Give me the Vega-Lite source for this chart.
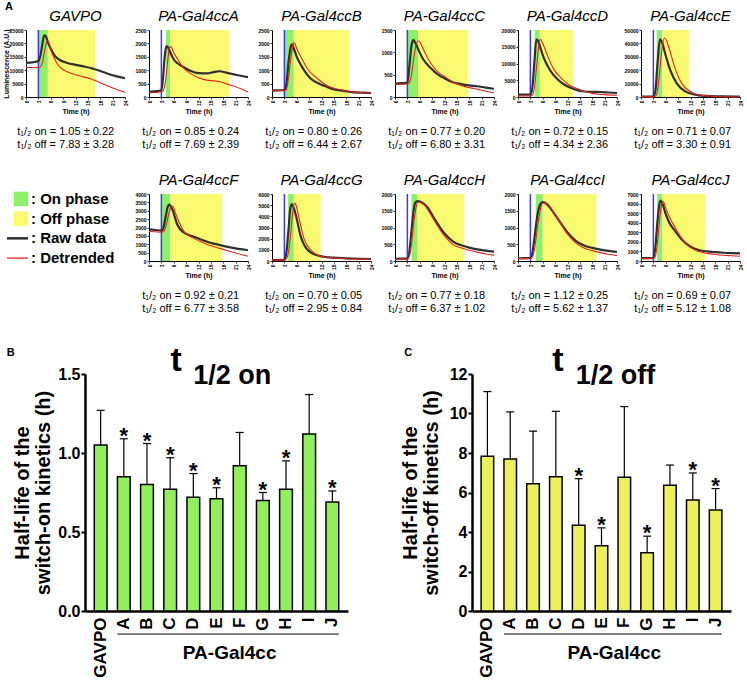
{
"$schema": "https://vega.github.io/schema/vega-lite/v6.json",
"background": "white",
"padding": {"left": 1, "top": 1, "right": 0, "bottom": 0},
"config": {
 "font": "Liberation Sans",
 "view": {"stroke": null},
 "axis": {"grid": false, "labelOverlap": false, "tickCount": 30, "domainColor": "black", "tickColor": "black", "labelColor": "black", "titleColor": "black", "labelFontSize": 5, "labelFontWeight": "bold", "titleFontSize": 7, "titleFontWeight": "bold", "tickSize": 2, "labelPadding": 1, "titlePadding": 2, "domainWidth": 1, "tickWidth": 0.8},
 "axisY": {"minExtent": 20, "maxExtent": 20},
 "title": {"color": "black", "font": "Liberation Sans"}
},
"datasets": {
 "phases": [
  {"p":"GAVPO","phase":"on","start":3,"end":5.3},{"p":"GAVPO","phase":"off","start":5.3,"end":16.8},
  {"p":"A","phase":"on","start":4.1,"end":5.1},{"p":"A","phase":"off","start":5.1,"end":19.5},
  {"p":"B","phase":"on","start":3,"end":5.3},{"p":"B","phase":"off","start":5.3,"end":18.7},
  {"p":"C","phase":"on","start":3,"end":5.6},{"p":"C","phase":"off","start":5.6,"end":17.8},
  {"p":"D","phase":"on","start":4.0,"end":5.3},{"p":"D","phase":"off","start":5.3,"end":13.3},
  {"p":"E","phase":"on","start":3.8,"end":5.2},{"p":"E","phase":"off","start":5.2,"end":11.6},
  {"p":"F","phase":"on","start":3,"end":5.2},{"p":"F","phase":"off","start":5.2,"end":17.8},
  {"p":"G","phase":"on","start":3.9,"end":5.3},{"p":"G","phase":"off","start":5.3,"end":11.8},
  {"p":"H","phase":"on","start":4.0,"end":5.4},{"p":"H","phase":"off","start":5.4,"end":16.8},
  {"p":"I","phase":"on","start":4.3,"end":6.0},{"p":"I","phase":"off","start":6.0,"end":19.0},
  {"p":"J","phase":"on","start":3.9,"end":5.2},{"p":"J","phase":"off","start":5.2,"end":15.5}
 ],
 "curves": [
  {"p":"GAVPO","s":"r","t":0,"v":12700},{"p":"GAVPO","s":"r","t":1.5,"v":12900},{"p":"GAVPO","s":"r","t":3,"v":13400},{"p":"GAVPO","s":"r","t":3.5,"v":15500},{"p":"GAVPO","s":"r","t":4,"v":20000},{"p":"GAVPO","s":"r","t":4.4,"v":23000},{"p":"GAVPO","s":"r","t":4.8,"v":22700},{"p":"GAVPO","s":"r","t":5.3,"v":20500},{"p":"GAVPO","s":"r","t":6,"v":18000},{"p":"GAVPO","s":"r","t":7,"v":15300},{"p":"GAVPO","s":"r","t":8,"v":14000},{"p":"GAVPO","s":"r","t":10,"v":12700},{"p":"GAVPO","s":"r","t":12,"v":12000},{"p":"GAVPO","s":"r","t":14,"v":11400},{"p":"GAVPO","s":"r","t":16,"v":10700},{"p":"GAVPO","s":"r","t":18,"v":9700},{"p":"GAVPO","s":"r","t":20,"v":8600},{"p":"GAVPO","s":"r","t":22,"v":7700},{"p":"GAVPO","s":"r","t":24,"v":7000},
  {"p":"GAVPO","s":"d","t":0,"v":11000},{"p":"GAVPO","s":"d","t":1.5,"v":11000},{"p":"GAVPO","s":"d","t":3,"v":11000},{"p":"GAVPO","s":"d","t":3.5,"v":11300},{"p":"GAVPO","s":"d","t":4,"v":13000},{"p":"GAVPO","s":"d","t":4.5,"v":17000},{"p":"GAVPO","s":"d","t":5,"v":20500},{"p":"GAVPO","s":"d","t":5.3,"v":21000},{"p":"GAVPO","s":"d","t":6,"v":17500},{"p":"GAVPO","s":"d","t":7,"v":14000},{"p":"GAVPO","s":"d","t":8,"v":11500},{"p":"GAVPO","s":"d","t":10,"v":9400},{"p":"GAVPO","s":"d","t":12,"v":8300},{"p":"GAVPO","s":"d","t":14,"v":7500},{"p":"GAVPO","s":"d","t":16,"v":6600},{"p":"GAVPO","s":"d","t":18,"v":5300},{"p":"GAVPO","s":"d","t":20,"v":4000},{"p":"GAVPO","s":"d","t":22,"v":2800},{"p":"GAVPO","s":"d","t":24,"v":1800},
  {"p":"A","s":"r","t":0,"v":190},{"p":"A","s":"r","t":1.5,"v":210},{"p":"A","s":"r","t":3,"v":250},{"p":"A","s":"r","t":3.4,"v":700},{"p":"A","s":"r","t":3.8,"v":1500},{"p":"A","s":"r","t":4.2,"v":1900},{"p":"A","s":"r","t":4.6,"v":1850},{"p":"A","s":"r","t":5.2,"v":1650},{"p":"A","s":"r","t":6,"v":1400},{"p":"A","s":"r","t":7,"v":1250},{"p":"A","s":"r","t":8,"v":1150},{"p":"A","s":"r","t":10,"v":980},{"p":"A","s":"r","t":12,"v":890},{"p":"A","s":"r","t":14,"v":880},{"p":"A","s":"r","t":16,"v":940},{"p":"A","s":"r","t":17,"v":960},{"p":"A","s":"r","t":19,"v":900},{"p":"A","s":"r","t":21,"v":830},{"p":"A","s":"r","t":24,"v":740},
  {"p":"A","s":"d","t":0,"v":160},{"p":"A","s":"d","t":1.5,"v":170},{"p":"A","s":"d","t":3,"v":200},{"p":"A","s":"d","t":3.5,"v":250},{"p":"A","s":"d","t":4,"v":600},{"p":"A","s":"d","t":4.5,"v":1300},{"p":"A","s":"d","t":5,"v":1850},{"p":"A","s":"d","t":5.3,"v":1880},{"p":"A","s":"d","t":6,"v":1650},{"p":"A","s":"d","t":7,"v":1400},{"p":"A","s":"d","t":8,"v":1150},{"p":"A","s":"d","t":10,"v":880},{"p":"A","s":"d","t":12,"v":720},{"p":"A","s":"d","t":14,"v":630},{"p":"A","s":"d","t":16,"v":600},{"p":"A","s":"d","t":17,"v":580},{"p":"A","s":"d","t":19,"v":480},{"p":"A","s":"d","t":21,"v":380},{"p":"A","s":"d","t":24,"v":190},
  {"p":"B","s":"r","t":0,"v":240},{"p":"B","s":"r","t":1.5,"v":250},{"p":"B","s":"r","t":3,"v":260},{"p":"B","s":"r","t":3.5,"v":500},{"p":"B","s":"r","t":4,"v":1300},{"p":"B","s":"r","t":4.5,"v":1850},{"p":"B","s":"r","t":4.85,"v":1960},{"p":"B","s":"r","t":5.3,"v":1800},{"p":"B","s":"r","t":6,"v":1500},{"p":"B","s":"r","t":7,"v":1200},{"p":"B","s":"r","t":8,"v":950},{"p":"B","s":"r","t":9.3,"v":700},{"p":"B","s":"r","t":11.7,"v":480},{"p":"B","s":"r","t":13,"v":400},{"p":"B","s":"r","t":15,"v":280},{"p":"B","s":"r","t":17.4,"v":230},{"p":"B","s":"r","t":20,"v":170},{"p":"B","s":"r","t":22,"v":160},{"p":"B","s":"r","t":24,"v":150},
  {"p":"B","s":"d","t":0,"v":230},{"p":"B","s":"d","t":1.5,"v":235},{"p":"B","s":"d","t":3,"v":240},{"p":"B","s":"d","t":3.5,"v":280},{"p":"B","s":"d","t":4,"v":700},{"p":"B","s":"d","t":4.6,"v":1500},{"p":"B","s":"d","t":5.1,"v":1950},{"p":"B","s":"d","t":5.4,"v":2020},{"p":"B","s":"d","t":6,"v":1800},{"p":"B","s":"d","t":7,"v":1500},{"p":"B","s":"d","t":8.5,"v":1070},{"p":"B","s":"d","t":10.9,"v":700},{"p":"B","s":"d","t":13.3,"v":430},{"p":"B","s":"d","t":15,"v":330},{"p":"B","s":"d","t":17.4,"v":245},{"p":"B","s":"d","t":20,"v":190},{"p":"B","s":"d","t":22,"v":160},{"p":"B","s":"d","t":24,"v":150},
  {"p":"C","s":"r","t":0,"v":300},{"p":"C","s":"r","t":1.5,"v":310},{"p":"C","s":"r","t":3,"v":320},{"p":"C","s":"r","t":3.5,"v":700},{"p":"C","s":"r","t":4,"v":1150},{"p":"C","s":"r","t":4.4,"v":1280},{"p":"C","s":"r","t":5,"v":1200},{"p":"C","s":"r","t":5.6,"v":1075},{"p":"C","s":"r","t":6.8,"v":850},{"p":"C","s":"r","t":8.4,"v":670},{"p":"C","s":"r","t":10.8,"v":480},{"p":"C","s":"r","t":12,"v":420},{"p":"C","s":"r","t":14,"v":330},{"p":"C","s":"r","t":16,"v":290},{"p":"C","s":"r","t":18,"v":260},{"p":"C","s":"r","t":20,"v":240},{"p":"C","s":"r","t":22,"v":210},{"p":"C","s":"r","t":24,"v":185},
  {"p":"C","s":"d","t":0,"v":280},{"p":"C","s":"d","t":1.5,"v":285},{"p":"C","s":"d","t":3,"v":290},{"p":"C","s":"d","t":3.5,"v":320},{"p":"C","s":"d","t":4,"v":500},{"p":"C","s":"d","t":4.6,"v":900},{"p":"C","s":"d","t":5.2,"v":1200},{"p":"C","s":"d","t":5.8,"v":1260},{"p":"C","s":"d","t":6.5,"v":1150},{"p":"C","s":"d","t":7.2,"v":1000},{"p":"C","s":"d","t":8.8,"v":740},{"p":"C","s":"d","t":10.8,"v":530},{"p":"C","s":"d","t":12,"v":460},{"p":"C","s":"d","t":14,"v":330},{"p":"C","s":"d","t":16,"v":260},{"p":"C","s":"d","t":18,"v":210},{"p":"C","s":"d","t":20,"v":170},{"p":"C","s":"d","t":22,"v":130},{"p":"C","s":"d","t":24,"v":90},
  {"p":"D","s":"r","t":0,"v":700},{"p":"D","s":"r","t":1.5,"v":700},{"p":"D","s":"r","t":3,"v":750},{"p":"D","s":"r","t":3.5,"v":3000},{"p":"D","s":"r","t":4,"v":11000},{"p":"D","s":"r","t":4.45,"v":17200},{"p":"D","s":"r","t":5,"v":16500},{"p":"D","s":"r","t":5.4,"v":14800},{"p":"D","s":"r","t":6.2,"v":11800},{"p":"D","s":"r","t":7.8,"v":7900},{"p":"D","s":"r","t":9.5,"v":5400},{"p":"D","s":"r","t":11.9,"v":3200},{"p":"D","s":"r","t":13.5,"v":2400},{"p":"D","s":"r","t":15,"v":1800},{"p":"D","s":"r","t":18,"v":1550},{"p":"D","s":"r","t":20,"v":1500},{"p":"D","s":"r","t":22,"v":1350},{"p":"D","s":"r","t":24,"v":1200},
  {"p":"D","s":"d","t":0,"v":300},{"p":"D","s":"d","t":1.5,"v":300},{"p":"D","s":"d","t":3,"v":300},{"p":"D","s":"d","t":3.5,"v":600},{"p":"D","s":"d","t":4,"v":3000},{"p":"D","s":"d","t":4.5,"v":9000},{"p":"D","s":"d","t":5,"v":15000},{"p":"D","s":"d","t":5.4,"v":17200},{"p":"D","s":"d","t":6,"v":16000},{"p":"D","s":"d","t":7,"v":12800},{"p":"D","s":"d","t":8.6,"v":8400},{"p":"D","s":"d","t":11.1,"v":4900},{"p":"D","s":"d","t":12.5,"v":3500},{"p":"D","s":"d","t":14.3,"v":2500},{"p":"D","s":"d","t":16,"v":1700},{"p":"D","s":"d","t":18.3,"v":1000},{"p":"D","s":"d","t":21,"v":700},{"p":"D","s":"d","t":24,"v":500},
  {"p":"E","s":"r","t":0,"v":250},{"p":"E","s":"r","t":1.5,"v":250},{"p":"E","s":"r","t":3,"v":300},{"p":"E","s":"r","t":3.5,"v":5000},{"p":"E","s":"r","t":4,"v":25000},{"p":"E","s":"r","t":4.6,"v":43000},{"p":"E","s":"r","t":5.2,"v":40000},{"p":"E","s":"r","t":5.85,"v":32500},{"p":"E","s":"r","t":7.1,"v":20000},{"p":"E","s":"r","t":8.7,"v":10000},{"p":"E","s":"r","t":10.7,"v":4250},{"p":"E","s":"r","t":12,"v":2600},{"p":"E","s":"r","t":14,"v":1250},{"p":"E","s":"r","t":16,"v":800},{"p":"E","s":"r","t":20,"v":400},{"p":"E","s":"r","t":24,"v":250},
  {"p":"E","s":"d","t":0,"v":100},{"p":"E","s":"d","t":1.5,"v":100},{"p":"E","s":"d","t":3,"v":100},{"p":"E","s":"d","t":3.5,"v":500},{"p":"E","s":"d","t":4,"v":5000},{"p":"E","s":"d","t":4.5,"v":18000},{"p":"E","s":"d","t":5,"v":34000},{"p":"E","s":"d","t":5.7,"v":44000},{"p":"E","s":"d","t":6.2,"v":42000},{"p":"E","s":"d","t":6.7,"v":37500},{"p":"E","s":"d","t":8.3,"v":21000},{"p":"E","s":"d","t":9.9,"v":10000},{"p":"E","s":"d","t":11.9,"v":4250},{"p":"E","s":"d","t":13,"v":2500},{"p":"E","s":"d","t":14.8,"v":1250},{"p":"E","s":"d","t":17,"v":600},{"p":"E","s":"d","t":20,"v":200},{"p":"E","s":"d","t":24,"v":0},
  {"p":"F","s":"r","t":0,"v":1890},{"p":"F","s":"r","t":1.5,"v":1850},{"p":"F","s":"r","t":3,"v":1810},{"p":"F","s":"r","t":3.5,"v":2000},{"p":"F","s":"r","t":4,"v":2600},{"p":"F","s":"r","t":4.5,"v":3200},{"p":"F","s":"r","t":4.85,"v":3360},{"p":"F","s":"r","t":5.2,"v":3300},{"p":"F","s":"r","t":5.7,"v":3050},{"p":"F","s":"r","t":6.9,"v":2150},{"p":"F","s":"r","t":8.5,"v":1690},{"p":"F","s":"r","t":10.9,"v":1450},{"p":"F","s":"r","t":14.1,"v":1150},{"p":"F","s":"r","t":16,"v":1020},{"p":"F","s":"r","t":18.2,"v":890},{"p":"F","s":"r","t":21,"v":750},{"p":"F","s":"r","t":24,"v":640},
  {"p":"F","s":"d","t":0,"v":1760},{"p":"F","s":"d","t":1.5,"v":1750},{"p":"F","s":"d","t":3,"v":1720},{"p":"F","s":"d","t":3.5,"v":1760},{"p":"F","s":"d","t":4,"v":2000},{"p":"F","s":"d","t":4.5,"v":2500},{"p":"F","s":"d","t":5,"v":3000},{"p":"F","s":"d","t":5.5,"v":3250},{"p":"F","s":"d","t":5.8,"v":3260},{"p":"F","s":"d","t":6.3,"v":2950},{"p":"F","s":"d","t":6.9,"v":2550},{"p":"F","s":"d","t":8.5,"v":1750},{"p":"F","s":"d","t":10.9,"v":1350},{"p":"F","s":"d","t":14.1,"v":985},{"p":"F","s":"d","t":16,"v":840},{"p":"F","s":"d","t":18.2,"v":680},{"p":"F","s":"d","t":21,"v":480},{"p":"F","s":"d","t":24,"v":280},
  {"p":"G","s":"r","t":0,"v":90},{"p":"G","s":"r","t":1.5,"v":90},{"p":"G","s":"r","t":3,"v":100},{"p":"G","s":"r","t":3.5,"v":800},{"p":"G","s":"r","t":4,"v":2800},{"p":"G","s":"r","t":4.4,"v":4600},{"p":"G","s":"r","t":4.7,"v":5100},{"p":"G","s":"r","t":5.1,"v":4900},{"p":"G","s":"r","t":5.7,"v":4230},{"p":"G","s":"r","t":6.9,"v":2300},{"p":"G","s":"r","t":8.2,"v":1200},{"p":"G","s":"r","t":10.7,"v":530},{"p":"G","s":"r","t":12,"v":420},{"p":"G","s":"r","t":14.8,"v":300},{"p":"G","s":"r","t":18,"v":240},{"p":"G","s":"r","t":21,"v":200},{"p":"G","s":"r","t":24,"v":180},
  {"p":"G","s":"d","t":0,"v":80},{"p":"G","s":"d","t":1.5,"v":80},{"p":"G","s":"d","t":3,"v":80},{"p":"G","s":"d","t":3.5,"v":200},{"p":"G","s":"d","t":4,"v":800},{"p":"G","s":"d","t":4.5,"v":2300},{"p":"G","s":"d","t":5,"v":4300},{"p":"G","s":"d","t":5.5,"v":5180},{"p":"G","s":"d","t":5.9,"v":4900},{"p":"G","s":"d","t":6.5,"v":3930},{"p":"G","s":"d","t":7.75,"v":2000},{"p":"G","s":"d","t":9.4,"v":980},{"p":"G","s":"d","t":12.3,"v":380},{"p":"G","s":"d","t":15,"v":270},{"p":"G","s":"d","t":19,"v":180},{"p":"G","s":"d","t":24,"v":150},
  {"p":"H","s":"r","t":0,"v":65},{"p":"H","s":"r","t":1.5,"v":70},{"p":"H","s":"r","t":3,"v":80},{"p":"H","s":"r","t":3.5,"v":300},{"p":"H","s":"r","t":4,"v":900},{"p":"H","s":"r","t":4.5,"v":1500},{"p":"H","s":"r","t":4.9,"v":1740},{"p":"H","s":"r","t":5.5,"v":1790},{"p":"H","s":"r","t":6.3,"v":1760},{"p":"H","s":"r","t":7.9,"v":1600},{"p":"H","s":"r","t":9.4,"v":1290},{"p":"H","s":"r","t":11.8,"v":850},{"p":"H","s":"r","t":14.1,"v":580},{"p":"H","s":"r","t":16.9,"v":440},{"p":"H","s":"r","t":18,"v":400},{"p":"H","s":"r","t":20.4,"v":340},{"p":"H","s":"r","t":22,"v":310},{"p":"H","s":"r","t":24,"v":280},
  {"p":"H","s":"d","t":0,"v":50},{"p":"H","s":"d","t":1.5,"v":55},{"p":"H","s":"d","t":3,"v":60},{"p":"H","s":"d","t":3.5,"v":150},{"p":"H","s":"d","t":4,"v":500},{"p":"H","s":"d","t":4.5,"v":1100},{"p":"H","s":"d","t":5.1,"v":1600},{"p":"H","s":"d","t":5.6,"v":1760},{"p":"H","s":"d","t":6.3,"v":1740},{"p":"H","s":"d","t":7.1,"v":1670},{"p":"H","s":"d","t":9.4,"v":1230},{"p":"H","s":"d","t":11.8,"v":780},{"p":"H","s":"d","t":14.1,"v":490},{"p":"H","s":"d","t":16.9,"v":360},{"p":"H","s":"d","t":18,"v":320},{"p":"H","s":"d","t":20.4,"v":250},{"p":"H","s":"d","t":22,"v":210},{"p":"H","s":"d","t":24,"v":175},
  {"p":"I","s":"r","t":0,"v":80},{"p":"I","s":"r","t":1.5,"v":85},{"p":"I","s":"r","t":3,"v":90},{"p":"I","s":"r","t":3.5,"v":250},{"p":"I","s":"r","t":4,"v":700},{"p":"I","s":"r","t":4.5,"v":1200},{"p":"I","s":"r","t":5,"v":1550},{"p":"I","s":"r","t":5.5,"v":1720},{"p":"I","s":"r","t":6,"v":1760},{"p":"I","s":"r","t":7,"v":1700},{"p":"I","s":"r","t":8,"v":1550},{"p":"I","s":"r","t":10,"v":1200},{"p":"I","s":"r","t":12,"v":850},{"p":"I","s":"r","t":14,"v":600},{"p":"I","s":"r","t":16,"v":460},{"p":"I","s":"r","t":18,"v":390},{"p":"I","s":"r","t":20,"v":340},{"p":"I","s":"r","t":22,"v":300},{"p":"I","s":"r","t":24,"v":270},
  {"p":"I","s":"d","t":0,"v":70},{"p":"I","s":"d","t":1.5,"v":70},{"p":"I","s":"d","t":3,"v":75},{"p":"I","s":"d","t":3.5,"v":120},{"p":"I","s":"d","t":4,"v":350},{"p":"I","s":"d","t":4.5,"v":800},{"p":"I","s":"d","t":5,"v":1250},{"p":"I","s":"d","t":5.5,"v":1580},{"p":"I","s":"d","t":6,"v":1730},{"p":"I","s":"d","t":7,"v":1720},{"p":"I","s":"d","t":8,"v":1580},{"p":"I","s":"d","t":10,"v":1190},{"p":"I","s":"d","t":12,"v":800},{"p":"I","s":"d","t":14,"v":540},{"p":"I","s":"d","t":16,"v":390},{"p":"I","s":"d","t":18,"v":310},{"p":"I","s":"d","t":20,"v":250},{"p":"I","s":"d","t":22,"v":200},{"p":"I","s":"d","t":24,"v":160},
  {"p":"J","s":"r","t":0,"v":300},{"p":"J","s":"r","t":1.5,"v":300},{"p":"J","s":"r","t":3,"v":320},{"p":"J","s":"r","t":3.5,"v":1500},{"p":"J","s":"r","t":4,"v":4200},{"p":"J","s":"r","t":4.5,"v":6000},{"p":"J","s":"r","t":4.8,"v":6300},{"p":"J","s":"r","t":5.2,"v":6000},{"p":"J","s":"r","t":6,"v":4900},{"p":"J","s":"r","t":7,"v":3900},{"p":"J","s":"r","t":8,"v":3300},{"p":"J","s":"r","t":10,"v":2200},{"p":"J","s":"r","t":12,"v":1500},{"p":"J","s":"r","t":14,"v":1150},{"p":"J","s":"r","t":16,"v":1000},{"p":"J","s":"r","t":18,"v":920},{"p":"J","s":"r","t":20,"v":860},{"p":"J","s":"r","t":22,"v":820},{"p":"J","s":"r","t":24,"v":800},
  {"p":"J","s":"d","t":0,"v":250},{"p":"J","s":"d","t":1.5,"v":250},{"p":"J","s":"d","t":3,"v":260},{"p":"J","s":"d","t":3.5,"v":500},{"p":"J","s":"d","t":4,"v":2000},{"p":"J","s":"d","t":4.5,"v":4300},{"p":"J","s":"d","t":5,"v":5900},{"p":"J","s":"d","t":5.4,"v":6250},{"p":"J","s":"d","t":6,"v":5500},{"p":"J","s":"d","t":7,"v":4500},{"p":"J","s":"d","t":8,"v":3700},{"p":"J","s":"d","t":10,"v":2300},{"p":"J","s":"d","t":12,"v":1400},{"p":"J","s":"d","t":14,"v":1000},{"p":"J","s":"d","t":16,"v":800},{"p":"J","s":"d","t":18,"v":680},{"p":"J","s":"d","t":20,"v":600},{"p":"J","s":"d","t":22,"v":550},{"p":"J","s":"d","t":24,"v":500}
 ],
 "legend": [
  {"item":"On phase","label":": On phase","kind":"box"},
  {"item":"Off phase","label":": Off phase","kind":"box"},
  {"item":"Raw data","label":": Raw data","kind":"line"},
  {"item":"Detrended","label":": Detrended","kind":"line"}
 ],
 "bars": [
  {"g":"GAVPO","on":1.05,"onhi":1.27,"onsig":false,"off":7.83,"offhi":11.11,"offsig":false},
  {"g":"A","on":0.85,"onhi":1.09,"onsig":true,"off":7.69,"offhi":10.08,"offsig":false},
  {"g":"B","on":0.80,"onhi":1.06,"onsig":true,"off":6.44,"offhi":9.11,"offsig":false},
  {"g":"C","on":0.77,"onhi":0.97,"onsig":true,"off":6.80,"offhi":10.11,"offsig":false},
  {"g":"D","on":0.72,"onhi":0.87,"onsig":true,"off":4.34,"offhi":6.70,"offsig":true},
  {"g":"E","on":0.71,"onhi":0.78,"onsig":true,"off":3.30,"offhi":4.21,"offsig":true},
  {"g":"F","on":0.92,"onhi":1.13,"onsig":false,"off":6.77,"offhi":10.35,"offsig":false},
  {"g":"G","on":0.70,"onhi":0.75,"onsig":true,"off":2.95,"offhi":3.79,"offsig":true},
  {"g":"H","on":0.77,"onhi":0.95,"onsig":true,"off":6.37,"offhi":7.39,"offsig":false},
  {"g":"I","on":1.12,"onhi":1.37,"onsig":false,"off":5.62,"offhi":6.99,"offsig":true},
  {"g":"J","on":0.69,"onhi":0.76,"onsig":true,"off":5.12,"offhi":6.20,"offsig":true}
 ]
},
"title": {"text": "A", "anchor": "start", "frame": "bounds", "fontSize": 11, "fontWeight": "bold", "offset": -3, "dx": 4},
"spacing": 29,
"vconcat": [
 {
  "columns": 7,
  "align": "each",
  "spacing": {"row": 23, "column": -1},
  "concat": [
   {"width": 1, "height": 1, "data": {"values": []}, "mark": "point"},
   {"title": {"text": ["t₁/₂ on = 1.05 ± 0.22", "t₁/₂ off = 7.83 ± 3.28"], "orient": "bottom", "fontSize": 11, "fontWeight": "normal", "lineHeight": 13, "offset": 11, "anchor": "middle"},
    "vconcat": [{"width": 99, "height": 67,
     "title": {"text": "GAVPO", "fontSize": 15, "fontStyle": "italic", "fontWeight": "normal", "offset": 4, "anchor": "middle", "frame": "group"},
     "layer": [
      {"data": {"name": "phases"}, "transform": [{"filter": "datum.p=='GAVPO'"}], "mark": "rect", "encoding": {"x": {"field": "start", "type": "quantitative", "scale": {"domain": [0, 24], "nice": false}, "axis": {"values": [0,3,6,9,12,15,18,21,24], "tickCount": 30, "labelAngle": -90, "labelFlush": false, "labelOverlap": false, "title": "Time (h)"}}, "x2": {"field": "end"}, "fill": {"field": "phase", "type": "nominal", "scale": {"domain": ["on", "off"], "range": ["#8cf06a", "#fafa70"]}, "legend": null}}},
      {"data": {"name": "phases"}, "transform": [{"filter": "datum.p=='GAVPO' && datum.phase=='on'"}], "mark": {"type": "rule", "color": "#3a3aff", "strokeWidth": 1.5}, "encoding": {"x": {"datum": 3, "type": "quantitative"}}},
      {"data": {"name": "curves"}, "transform": [{"filter": "datum.p=='GAVPO' && datum.s=='r'"}], "mark": {"type": "line", "color": "#303030", "strokeWidth": 2.2, "interpolate": "monotone"}, "encoding": {"x": {"field": "t", "type": "quantitative", "title": "Time (h)"}, "y": {"field": "v", "type": "quantitative", "scale": {"domain": [0, 25000], "nice": false}, "axis": {"values": [0,5000,10000,15000,20000,25000], "tickCount": 30, "format": "d", "labelOverlap": false, "title": "Luminescence (A.U.)", "titlePadding": 1, "minExtent": 16, "maxExtent": 16}}}},
      {"data": {"name": "curves"}, "transform": [{"filter": "datum.p=='GAVPO' && datum.s=='d'"}], "mark": {"type": "line", "color": "#e8231e", "strokeWidth": 1.1, "interpolate": "monotone"}, "encoding": {"x": {"field": "t", "type": "quantitative", "title": "Time (h)"}, "y": {"field": "v", "type": "quantitative", "title": "Luminescence (A.U.)"}}}
     ]}]},
   {"title": {"text": ["t₁/₂ on = 0.85 ± 0.24", "t₁/₂ off = 7.69 ± 2.39"], "orient": "bottom", "fontSize": 11, "fontWeight": "normal", "lineHeight": 13, "offset": 11, "anchor": "middle"},
    "vconcat": [{"width": 99, "height": 67,
     "title": {"text": "PA-Gal4ccA", "fontSize": 15, "fontStyle": "italic", "fontWeight": "normal", "offset": 4, "anchor": "middle", "frame": "group"},
     "layer": [
      {"data": {"name": "phases"}, "transform": [{"filter": "datum.p=='A'"}], "mark": "rect", "encoding": {"x": {"field": "start", "type": "quantitative", "scale": {"domain": [0, 24], "nice": false}, "axis": {"values": [0,3,6,9,12,15,18,21,24], "tickCount": 30, "labelAngle": -90, "labelFlush": false, "labelOverlap": false, "title": "Time (h)"}}, "x2": {"field": "end"}, "fill": {"field": "phase", "type": "nominal", "scale": {"domain": ["on", "off"], "range": ["#8cf06a", "#fafa70"]}, "legend": null}}},
      {"data": {"name": "phases"}, "transform": [{"filter": "datum.p=='A' && datum.phase=='on'"}], "mark": {"type": "rule", "color": "#3a3aff", "strokeWidth": 1.5}, "encoding": {"x": {"datum": 3, "type": "quantitative"}}},
      {"data": {"name": "curves"}, "transform": [{"filter": "datum.p=='A' && datum.s=='r'"}], "mark": {"type": "line", "color": "#303030", "strokeWidth": 2.2, "interpolate": "monotone"}, "encoding": {"x": {"field": "t", "type": "quantitative", "title": "Time (h)"}, "y": {"field": "v", "type": "quantitative", "scale": {"domain": [0, 2500], "nice": false}, "axis": {"values": [0,500,1000,1500,2000,2500], "tickCount": 30, "format": "d", "labelOverlap": false, "title": null}}}},
      {"data": {"name": "curves"}, "transform": [{"filter": "datum.p=='A' && datum.s=='d'"}], "mark": {"type": "line", "color": "#e8231e", "strokeWidth": 1.1, "interpolate": "monotone"}, "encoding": {"x": {"field": "t", "type": "quantitative", "title": "Time (h)"}, "y": {"field": "v", "type": "quantitative", "title": null}}}
     ]}]},
   {"title": {"text": ["t₁/₂ on = 0.80 ± 0.26", "t₁/₂ off = 6.44 ± 2.67"], "orient": "bottom", "fontSize": 11, "fontWeight": "normal", "lineHeight": 13, "offset": 11, "anchor": "middle"},
    "vconcat": [{"width": 99, "height": 67,
     "title": {"text": "PA-Gal4ccB", "fontSize": 15, "fontStyle": "italic", "fontWeight": "normal", "offset": 4, "anchor": "middle", "frame": "group"},
     "layer": [
      {"data": {"name": "phases"}, "transform": [{"filter": "datum.p=='B'"}], "mark": "rect", "encoding": {"x": {"field": "start", "type": "quantitative", "scale": {"domain": [0, 24], "nice": false}, "axis": {"values": [0,3,6,9,12,15,18,21,24], "tickCount": 30, "labelAngle": -90, "labelFlush": false, "labelOverlap": false, "title": "Time (h)"}}, "x2": {"field": "end"}, "fill": {"field": "phase", "type": "nominal", "scale": {"domain": ["on", "off"], "range": ["#8cf06a", "#fafa70"]}, "legend": null}}},
      {"data": {"name": "phases"}, "transform": [{"filter": "datum.p=='B' && datum.phase=='on'"}], "mark": {"type": "rule", "color": "#3a3aff", "strokeWidth": 1.5}, "encoding": {"x": {"datum": 3, "type": "quantitative"}}},
      {"data": {"name": "curves"}, "transform": [{"filter": "datum.p=='B' && datum.s=='r'"}], "mark": {"type": "line", "color": "#303030", "strokeWidth": 2.2, "interpolate": "monotone"}, "encoding": {"x": {"field": "t", "type": "quantitative", "title": "Time (h)"}, "y": {"field": "v", "type": "quantitative", "scale": {"domain": [0, 2500], "nice": false}, "axis": {"values": [0,500,1000,1500,2000,2500], "tickCount": 30, "format": "d", "labelOverlap": false, "title": null}}}},
      {"data": {"name": "curves"}, "transform": [{"filter": "datum.p=='B' && datum.s=='d'"}], "mark": {"type": "line", "color": "#e8231e", "strokeWidth": 1.1, "interpolate": "monotone"}, "encoding": {"x": {"field": "t", "type": "quantitative", "title": "Time (h)"}, "y": {"field": "v", "type": "quantitative", "title": null}}}
     ]}]},
   {"title": {"text": ["t₁/₂ on = 0.77 ± 0.20", "t₁/₂ off = 6.80 ± 3.31"], "orient": "bottom", "fontSize": 11, "fontWeight": "normal", "lineHeight": 13, "offset": 11, "anchor": "middle"},
    "vconcat": [{"width": 99, "height": 67,
     "title": {"text": "PA-Gal4ccC", "fontSize": 15, "fontStyle": "italic", "fontWeight": "normal", "offset": 4, "anchor": "middle", "frame": "group"},
     "layer": [
      {"data": {"name": "phases"}, "transform": [{"filter": "datum.p=='C'"}], "mark": "rect", "encoding": {"x": {"field": "start", "type": "quantitative", "scale": {"domain": [0, 24], "nice": false}, "axis": {"values": [0,3,6,9,12,15,18,21,24], "tickCount": 30, "labelAngle": -90, "labelFlush": false, "labelOverlap": false, "title": "Time (h)"}}, "x2": {"field": "end"}, "fill": {"field": "phase", "type": "nominal", "scale": {"domain": ["on", "off"], "range": ["#8cf06a", "#fafa70"]}, "legend": null}}},
      {"data": {"name": "phases"}, "transform": [{"filter": "datum.p=='C' && datum.phase=='on'"}], "mark": {"type": "rule", "color": "#3a3aff", "strokeWidth": 1.5}, "encoding": {"x": {"datum": 3, "type": "quantitative"}}},
      {"data": {"name": "curves"}, "transform": [{"filter": "datum.p=='C' && datum.s=='r'"}], "mark": {"type": "line", "color": "#303030", "strokeWidth": 2.2, "interpolate": "monotone"}, "encoding": {"x": {"field": "t", "type": "quantitative", "title": "Time (h)"}, "y": {"field": "v", "type": "quantitative", "scale": {"domain": [0, 1500], "nice": false}, "axis": {"values": [0,500,1000,1500], "tickCount": 30, "format": "d", "labelOverlap": false, "title": null}}}},
      {"data": {"name": "curves"}, "transform": [{"filter": "datum.p=='C' && datum.s=='d'"}], "mark": {"type": "line", "color": "#e8231e", "strokeWidth": 1.1, "interpolate": "monotone"}, "encoding": {"x": {"field": "t", "type": "quantitative", "title": "Time (h)"}, "y": {"field": "v", "type": "quantitative", "title": null}}}
     ]}]},
   {"title": {"text": ["t₁/₂ on = 0.72 ± 0.15", "t₁/₂ off = 4.34 ± 2.36"], "orient": "bottom", "fontSize": 11, "fontWeight": "normal", "lineHeight": 13, "offset": 11, "anchor": "middle"},
    "vconcat": [{"width": 99, "height": 67,
     "title": {"text": "PA-Gal4ccD", "fontSize": 15, "fontStyle": "italic", "fontWeight": "normal", "offset": 4, "anchor": "middle", "frame": "group"},
     "layer": [
      {"data": {"name": "phases"}, "transform": [{"filter": "datum.p=='D'"}], "mark": "rect", "encoding": {"x": {"field": "start", "type": "quantitative", "scale": {"domain": [0, 24], "nice": false}, "axis": {"values": [0,3,6,9,12,15,18,21,24], "tickCount": 30, "labelAngle": -90, "labelFlush": false, "labelOverlap": false, "title": "Time (h)"}}, "x2": {"field": "end"}, "fill": {"field": "phase", "type": "nominal", "scale": {"domain": ["on", "off"], "range": ["#8cf06a", "#fafa70"]}, "legend": null}}},
      {"data": {"name": "phases"}, "transform": [{"filter": "datum.p=='D' && datum.phase=='on'"}], "mark": {"type": "rule", "color": "#3a3aff", "strokeWidth": 1.5}, "encoding": {"x": {"datum": 3, "type": "quantitative"}}},
      {"data": {"name": "curves"}, "transform": [{"filter": "datum.p=='D' && datum.s=='r'"}], "mark": {"type": "line", "color": "#303030", "strokeWidth": 2.2, "interpolate": "monotone"}, "encoding": {"x": {"field": "t", "type": "quantitative", "title": "Time (h)"}, "y": {"field": "v", "type": "quantitative", "scale": {"domain": [0, 20000], "nice": false}, "axis": {"values": [0,5000,10000,15000,20000], "tickCount": 30, "format": "d", "labelOverlap": false, "title": null}}}},
      {"data": {"name": "curves"}, "transform": [{"filter": "datum.p=='D' && datum.s=='d'"}], "mark": {"type": "line", "color": "#e8231e", "strokeWidth": 1.1, "interpolate": "monotone"}, "encoding": {"x": {"field": "t", "type": "quantitative", "title": "Time (h)"}, "y": {"field": "v", "type": "quantitative", "title": null}}}
     ]}]},
   {"title": {"text": ["t₁/₂ on = 0.71 ± 0.07", "t₁/₂ off = 3.30 ± 0.91"], "orient": "bottom", "fontSize": 11, "fontWeight": "normal", "lineHeight": 13, "offset": 11, "anchor": "middle"},
    "vconcat": [{"width": 99, "height": 67,
     "title": {"text": "PA-Gal4ccE", "fontSize": 15, "fontStyle": "italic", "fontWeight": "normal", "offset": 4, "anchor": "middle", "frame": "group"},
     "layer": [
      {"data": {"name": "phases"}, "transform": [{"filter": "datum.p=='E'"}], "mark": "rect", "encoding": {"x": {"field": "start", "type": "quantitative", "scale": {"domain": [0, 24], "nice": false}, "axis": {"values": [0,3,6,9,12,15,18,21,24], "tickCount": 30, "labelAngle": -90, "labelFlush": false, "labelOverlap": false, "title": "Time (h)"}}, "x2": {"field": "end"}, "fill": {"field": "phase", "type": "nominal", "scale": {"domain": ["on", "off"], "range": ["#8cf06a", "#fafa70"]}, "legend": null}}},
      {"data": {"name": "phases"}, "transform": [{"filter": "datum.p=='E' && datum.phase=='on'"}], "mark": {"type": "rule", "color": "#3a3aff", "strokeWidth": 1.5}, "encoding": {"x": {"datum": 3, "type": "quantitative"}}},
      {"data": {"name": "curves"}, "transform": [{"filter": "datum.p=='E' && datum.s=='r'"}], "mark": {"type": "line", "color": "#303030", "strokeWidth": 2.2, "interpolate": "monotone"}, "encoding": {"x": {"field": "t", "type": "quantitative", "title": "Time (h)"}, "y": {"field": "v", "type": "quantitative", "scale": {"domain": [0, 50000], "nice": false}, "axis": {"values": [0,10000,20000,30000,40000,50000], "tickCount": 30, "format": "d", "labelOverlap": false, "title": null}}}},
      {"data": {"name": "curves"}, "transform": [{"filter": "datum.p=='E' && datum.s=='d'"}], "mark": {"type": "line", "color": "#e8231e", "strokeWidth": 1.1, "interpolate": "monotone"}, "encoding": {"x": {"field": "t", "type": "quantitative", "title": "Time (h)"}, "y": {"field": "v", "type": "quantitative", "title": null}}}
     ]}]},
   {"width": 1, "height": 1, "data": {"values": []}, "mark": "point"},
   {"width": 99, "height": 69,
    "data": {"name": "legend"},
    "encoding": {"y": {"field": "item", "type": "nominal", "scale": {"type": "point", "domain": ["On phase", "Off phase", "Raw data", "Detrended"], "padding": 0.25}, "axis": null}},
    "layer": [
     {"transform": [{"filter": "datum.kind=='box'"}], "mark": {"type": "square", "size": 210, "opacity": 1}, "encoding": {"x": {"datum": -0.5, "type": "quantitative", "scale": {"domain": [0, 9.9], "nice": false}, "axis": null}, "fill": {"field": "item", "type": "nominal", "scale": {"domain": ["On phase", "Off phase"], "range": ["#8cf06a", "#fafa70"]}, "legend": null}}},
     {"transform": [{"filter": "datum.item=='Raw data'"}], "mark": {"type": "rule", "color": "#303030", "strokeWidth": 2.5}, "encoding": {"x": {"datum": -1.9, "type": "quantitative"}, "x2": {"datum": 0.2}}},
     {"transform": [{"filter": "datum.item=='Detrended'"}], "mark": {"type": "rule", "color": "#e8231e", "strokeWidth": 1.3}, "encoding": {"x": {"datum": -1.9, "type": "quantitative"}, "x2": {"datum": 0.2}}},
     {"mark": {"type": "text", "align": "left", "baseline": "middle", "fontSize": 15, "fontWeight": "bold", "color": "black"}, "encoding": {"x": {"datum": 0.5, "type": "quantitative"}, "text": {"field": "label"}}}
    ]},
   {"title": {"text": ["t₁/₂ on = 0.92 ± 0.21", "t₁/₂ off = 6.77 ± 3.58"], "orient": "bottom", "fontSize": 11, "fontWeight": "normal", "lineHeight": 13, "offset": 11, "anchor": "middle"},
    "vconcat": [{"width": 99, "height": 67,
     "title": {"text": "PA-Gal4ccF", "fontSize": 15, "fontStyle": "italic", "fontWeight": "normal", "offset": 4, "anchor": "middle", "frame": "group"},
     "layer": [
      {"data": {"name": "phases"}, "transform": [{"filter": "datum.p=='F'"}], "mark": "rect", "encoding": {"x": {"field": "start", "type": "quantitative", "scale": {"domain": [0, 24], "nice": false}, "axis": {"values": [0,3,6,9,12,15,18,21,24], "tickCount": 30, "labelAngle": -90, "labelFlush": false, "labelOverlap": false, "title": "Time (h)"}}, "x2": {"field": "end"}, "fill": {"field": "phase", "type": "nominal", "scale": {"domain": ["on", "off"], "range": ["#8cf06a", "#fafa70"]}, "legend": null}}},
      {"data": {"name": "phases"}, "transform": [{"filter": "datum.p=='F' && datum.phase=='on'"}], "mark": {"type": "rule", "color": "#3a3aff", "strokeWidth": 1.5}, "encoding": {"x": {"datum": 3, "type": "quantitative"}}},
      {"data": {"name": "curves"}, "transform": [{"filter": "datum.p=='F' && datum.s=='r'"}], "mark": {"type": "line", "color": "#303030", "strokeWidth": 2.2, "interpolate": "monotone"}, "encoding": {"x": {"field": "t", "type": "quantitative", "title": "Time (h)"}, "y": {"field": "v", "type": "quantitative", "scale": {"domain": [0, 4000], "nice": false}, "axis": {"values": [0,500,1000,1500,2000,2500,3000,3500,4000], "tickCount": 30, "format": "d", "labelOverlap": false, "title": null}}}},
      {"data": {"name": "curves"}, "transform": [{"filter": "datum.p=='F' && datum.s=='d'"}], "mark": {"type": "line", "color": "#e8231e", "strokeWidth": 1.1, "interpolate": "monotone"}, "encoding": {"x": {"field": "t", "type": "quantitative", "title": "Time (h)"}, "y": {"field": "v", "type": "quantitative", "title": null}}}
     ]}]},
   {"title": {"text": ["t₁/₂ on = 0.70 ± 0.05", "t₁/₂ off = 2.95 ± 0.84"], "orient": "bottom", "fontSize": 11, "fontWeight": "normal", "lineHeight": 13, "offset": 11, "anchor": "middle"},
    "vconcat": [{"width": 99, "height": 67,
     "title": {"text": "PA-Gal4ccG", "fontSize": 15, "fontStyle": "italic", "fontWeight": "normal", "offset": 4, "anchor": "middle", "frame": "group"},
     "layer": [
      {"data": {"name": "phases"}, "transform": [{"filter": "datum.p=='G'"}], "mark": "rect", "encoding": {"x": {"field": "start", "type": "quantitative", "scale": {"domain": [0, 24], "nice": false}, "axis": {"values": [0,3,6,9,12,15,18,21,24], "tickCount": 30, "labelAngle": -90, "labelFlush": false, "labelOverlap": false, "title": "Time (h)"}}, "x2": {"field": "end"}, "fill": {"field": "phase", "type": "nominal", "scale": {"domain": ["on", "off"], "range": ["#8cf06a", "#fafa70"]}, "legend": null}}},
      {"data": {"name": "phases"}, "transform": [{"filter": "datum.p=='G' && datum.phase=='on'"}], "mark": {"type": "rule", "color": "#3a3aff", "strokeWidth": 1.5}, "encoding": {"x": {"datum": 3, "type": "quantitative"}}},
      {"data": {"name": "curves"}, "transform": [{"filter": "datum.p=='G' && datum.s=='r'"}], "mark": {"type": "line", "color": "#303030", "strokeWidth": 2.2, "interpolate": "monotone"}, "encoding": {"x": {"field": "t", "type": "quantitative", "title": "Time (h)"}, "y": {"field": "v", "type": "quantitative", "scale": {"domain": [0, 6000], "nice": false}, "axis": {"values": [0,1000,2000,3000,4000,5000,6000], "tickCount": 30, "format": "d", "labelOverlap": false, "title": null}}}},
      {"data": {"name": "curves"}, "transform": [{"filter": "datum.p=='G' && datum.s=='d'"}], "mark": {"type": "line", "color": "#e8231e", "strokeWidth": 1.1, "interpolate": "monotone"}, "encoding": {"x": {"field": "t", "type": "quantitative", "title": "Time (h)"}, "y": {"field": "v", "type": "quantitative", "title": null}}}
     ]}]},
   {"title": {"text": ["t₁/₂ on = 0.77 ± 0.18", "t₁/₂ off = 6.37 ± 1.02"], "orient": "bottom", "fontSize": 11, "fontWeight": "normal", "lineHeight": 13, "offset": 11, "anchor": "middle"},
    "vconcat": [{"width": 99, "height": 67,
     "title": {"text": "PA-Gal4ccH", "fontSize": 15, "fontStyle": "italic", "fontWeight": "normal", "offset": 4, "anchor": "middle", "frame": "group"},
     "layer": [
      {"data": {"name": "phases"}, "transform": [{"filter": "datum.p=='H'"}], "mark": "rect", "encoding": {"x": {"field": "start", "type": "quantitative", "scale": {"domain": [0, 24], "nice": false}, "axis": {"values": [0,3,6,9,12,15,18,21,24], "tickCount": 30, "labelAngle": -90, "labelFlush": false, "labelOverlap": false, "title": "Time (h)"}}, "x2": {"field": "end"}, "fill": {"field": "phase", "type": "nominal", "scale": {"domain": ["on", "off"], "range": ["#8cf06a", "#fafa70"]}, "legend": null}}},
      {"data": {"name": "phases"}, "transform": [{"filter": "datum.p=='H' && datum.phase=='on'"}], "mark": {"type": "rule", "color": "#3a3aff", "strokeWidth": 1.5}, "encoding": {"x": {"datum": 3, "type": "quantitative"}}},
      {"data": {"name": "curves"}, "transform": [{"filter": "datum.p=='H' && datum.s=='r'"}], "mark": {"type": "line", "color": "#303030", "strokeWidth": 2.2, "interpolate": "monotone"}, "encoding": {"x": {"field": "t", "type": "quantitative", "title": "Time (h)"}, "y": {"field": "v", "type": "quantitative", "scale": {"domain": [0, 2000], "nice": false}, "axis": {"values": [0,500,1000,1500,2000], "tickCount": 30, "format": "d", "labelOverlap": false, "title": null}}}},
      {"data": {"name": "curves"}, "transform": [{"filter": "datum.p=='H' && datum.s=='d'"}], "mark": {"type": "line", "color": "#e8231e", "strokeWidth": 1.1, "interpolate": "monotone"}, "encoding": {"x": {"field": "t", "type": "quantitative", "title": "Time (h)"}, "y": {"field": "v", "type": "quantitative", "title": null}}}
     ]}]},
   {"title": {"text": ["t₁/₂ on = 1.12 ± 0.25", "t₁/₂ off = 5.62 ± 1.37"], "orient": "bottom", "fontSize": 11, "fontWeight": "normal", "lineHeight": 13, "offset": 11, "anchor": "middle"},
    "vconcat": [{"width": 99, "height": 67,
     "title": {"text": "PA-Gal4ccI", "fontSize": 15, "fontStyle": "italic", "fontWeight": "normal", "offset": 4, "anchor": "middle", "frame": "group"},
     "layer": [
      {"data": {"name": "phases"}, "transform": [{"filter": "datum.p=='I'"}], "mark": "rect", "encoding": {"x": {"field": "start", "type": "quantitative", "scale": {"domain": [0, 24], "nice": false}, "axis": {"values": [0,3,6,9,12,15,18,21,24], "tickCount": 30, "labelAngle": -90, "labelFlush": false, "labelOverlap": false, "title": "Time (h)"}}, "x2": {"field": "end"}, "fill": {"field": "phase", "type": "nominal", "scale": {"domain": ["on", "off"], "range": ["#8cf06a", "#fafa70"]}, "legend": null}}},
      {"data": {"name": "phases"}, "transform": [{"filter": "datum.p=='I' && datum.phase=='on'"}], "mark": {"type": "rule", "color": "#3a3aff", "strokeWidth": 1.5}, "encoding": {"x": {"datum": 3, "type": "quantitative"}}},
      {"data": {"name": "curves"}, "transform": [{"filter": "datum.p=='I' && datum.s=='r'"}], "mark": {"type": "line", "color": "#303030", "strokeWidth": 2.2, "interpolate": "monotone"}, "encoding": {"x": {"field": "t", "type": "quantitative", "title": "Time (h)"}, "y": {"field": "v", "type": "quantitative", "scale": {"domain": [0, 2000], "nice": false}, "axis": {"values": [0,500,1000,1500,2000], "tickCount": 30, "format": "d", "labelOverlap": false, "title": null}}}},
      {"data": {"name": "curves"}, "transform": [{"filter": "datum.p=='I' && datum.s=='d'"}], "mark": {"type": "line", "color": "#e8231e", "strokeWidth": 1.1, "interpolate": "monotone"}, "encoding": {"x": {"field": "t", "type": "quantitative", "title": "Time (h)"}, "y": {"field": "v", "type": "quantitative", "title": null}}}
     ]}]},
   {"title": {"text": ["t₁/₂ on = 0.69 ± 0.07", "t₁/₂ off = 5.12 ± 1.08"], "orient": "bottom", "fontSize": 11, "fontWeight": "normal", "lineHeight": 13, "offset": 11, "anchor": "middle"},
    "vconcat": [{"width": 99, "height": 67,
     "title": {"text": "PA-Gal4ccJ", "fontSize": 15, "fontStyle": "italic", "fontWeight": "normal", "offset": 4, "anchor": "middle", "frame": "group"},
     "layer": [
      {"data": {"name": "phases"}, "transform": [{"filter": "datum.p=='J'"}], "mark": "rect", "encoding": {"x": {"field": "start", "type": "quantitative", "scale": {"domain": [0, 24], "nice": false}, "axis": {"values": [0,3,6,9,12,15,18,21,24], "tickCount": 30, "labelAngle": -90, "labelFlush": false, "labelOverlap": false, "title": "Time (h)"}}, "x2": {"field": "end"}, "fill": {"field": "phase", "type": "nominal", "scale": {"domain": ["on", "off"], "range": ["#8cf06a", "#fafa70"]}, "legend": null}}},
      {"data": {"name": "phases"}, "transform": [{"filter": "datum.p=='J' && datum.phase=='on'"}], "mark": {"type": "rule", "color": "#3a3aff", "strokeWidth": 1.5}, "encoding": {"x": {"datum": 3, "type": "quantitative"}}},
      {"data": {"name": "curves"}, "transform": [{"filter": "datum.p=='J' && datum.s=='r'"}], "mark": {"type": "line", "color": "#303030", "strokeWidth": 2.2, "interpolate": "monotone"}, "encoding": {"x": {"field": "t", "type": "quantitative", "title": "Time (h)"}, "y": {"field": "v", "type": "quantitative", "scale": {"domain": [0, 7000], "nice": false}, "axis": {"values": [0,1000,2000,3000,4000,5000,6000,7000], "tickCount": 30, "format": "d", "labelOverlap": false, "title": null}}}},
      {"data": {"name": "curves"}, "transform": [{"filter": "datum.p=='J' && datum.s=='d'"}], "mark": {"type": "line", "color": "#e8231e", "strokeWidth": 1.1, "interpolate": "monotone"}, "encoding": {"x": {"field": "t", "type": "quantitative", "title": "Time (h)"}, "y": {"field": "v", "type": "quantitative", "title": null}}}
     ]}]}
  ]
 },
 {
  "spacing": 4,
  "hconcat": [
   {"width": 1, "height": 1, "data": {"values": []}, "mark": "point"},
   {"spacing": 52,
    "hconcat": [
   {"width": 263, "height": 237,
    "title": {"text": "B", "anchor": "start", "frame": "bounds", "fontSize": 11, "fontWeight": "bold", "dx": -6, "offset": -14},
    "data": {"name": "bars"},
    "layer": [
     {"mark": {"type": "bar", "fill": "#93ee5b", "stroke": "black", "strokeWidth": 1.5},
      "encoding": {
       "x": {"field": "g", "type": "nominal", "scale": {"domain": ["GAVPO","A","B","C","D","E","F","G","H","I","J"], "paddingInner": 0.45, "paddingOuter": 0.4}, "axis": {"title": null, "labelAngle": -90, "labelFontSize": 17, "labelFontWeight": "bold", "labelOverlap": false, "ticks": false, "domainWidth": 2.5, "labelPadding": 6}},
       "y": {"field": "on", "type": "quantitative", "scale": {"domain": [0, 1.5], "nice": false}, "axis": {"title": ["Half-life of the", "switch-on kinetics (h)"], "titleFontSize": 20, "titleLineHeight": 21, "titleFontWeight": "bold", "titlePadding": 4, "values": [0, 0.5, 1, 1.5], "tickCount": 30, "format": ".1f", "labelOverlap": false, "labelFontSize": 16, "labelFontWeight": "bold", "labelPadding": 1, "tickSize": 4, "tickWidth": 2, "domainWidth": 2.5, "minExtent": 0, "maxExtent": 200}}
      }},
     {"mark": {"type": "rule", "strokeWidth": 1.2, "color": "black"}, "encoding": {"x": {"field": "g", "type": "nominal"}, "y": {"field": "on", "type": "quantitative"}, "y2": {"field": "onhi"}}},
     {"mark": {"type": "tick", "thickness": 1.2, "size": 8, "color": "black", "opacity": 1}, "encoding": {"x": {"field": "g", "type": "nominal"}, "y": {"field": "onhi", "type": "quantitative"}}},
     {"transform": [{"filter": "datum.onsig"}], "mark": {"type": "text", "text": "*", "fontSize": 22, "fontWeight": "bold", "baseline": "alphabetic", "dy": 4, "color": "black"}, "encoding": {"x": {"field": "g", "type": "nominal"}, "y": {"field": "onhi", "type": "quantitative"}}},
     {"transform": [{"filter": "datum.g=='GAVPO'"}], "mark": {"type": "text", "text": "t", "fontSize": 34, "fontWeight": "bold", "baseline": "alphabetic", "dx": 6, "color": "black"}, "encoding": {"x": {"datum": "C", "type": "nominal"}, "y": {"datum": 1.52, "type": "quantitative"}}},
     {"transform": [{"filter": "datum.g=='GAVPO'"}], "mark": {"type": "text", "text": "1/2 on", "fontSize": 27, "fontWeight": "bold", "align": "left", "baseline": "alphabetic", "color": "black"}, "encoding": {"x": {"datum": "D", "type": "nominal"}, "y": {"datum": 1.437, "type": "quantitative"}}},
     {"transform": [{"filter": "datum.g=='GAVPO'"}], "mark": {"type": "rule", "strokeWidth": 1, "color": "black"}, "encoding": {"x": {"datum": "A", "type": "nominal", "bandPosition": 0}, "x2": {"datum": "J", "bandPosition": 1}, "y": {"datum": -0.146, "type": "quantitative"}}},
     {"transform": [{"filter": "datum.g=='GAVPO'"}], "mark": {"type": "text", "text": "PA-Gal4cc", "fontSize": 19, "fontWeight": "bold", "baseline": "middle", "dx": -10, "color": "black"}, "encoding": {"x": {"datum": "F", "type": "nominal"}, "y": {"datum": -0.266, "type": "quantitative"}}}
    ]},
   {"width": 259, "height": 237,
    "title": {"text": "C", "anchor": "start", "frame": "bounds", "fontSize": 11, "fontWeight": "bold", "dx": 4, "offset": -14},
    "data": {"name": "bars"},
    "layer": [
     {"mark": {"type": "bar", "fill": "#ecf05a", "stroke": "black", "strokeWidth": 1.5},
      "encoding": {
       "x": {"field": "g", "type": "nominal", "scale": {"domain": ["GAVPO","A","B","C","D","E","F","G","H","I","J"], "paddingInner": 0.45, "paddingOuter": 0.4}, "axis": {"title": null, "labelAngle": -90, "labelFontSize": 17, "labelFontWeight": "bold", "labelOverlap": false, "ticks": false, "domainWidth": 2.5, "labelPadding": 6}},
       "y": {"field": "off", "type": "quantitative", "scale": {"domain": [0, 12], "nice": false}, "axis": {"title": ["Half-life of the", "switch-off kinetics (h)"], "titleFontSize": 20, "titleLineHeight": 21, "titleFontWeight": "bold", "titlePadding": 8, "values": [0, 2, 4, 6, 8, 10, 12], "tickCount": 30, "format": "d", "labelOverlap": false, "labelFontSize": 16, "labelFontWeight": "bold", "labelPadding": 1, "tickSize": 4, "tickWidth": 2, "domainWidth": 2.5, "minExtent": 0, "maxExtent": 200}}
      }},
     {"mark": {"type": "rule", "strokeWidth": 1.2, "color": "black"}, "encoding": {"x": {"field": "g", "type": "nominal"}, "y": {"field": "off", "type": "quantitative"}, "y2": {"field": "offhi"}}},
     {"mark": {"type": "tick", "thickness": 1.2, "size": 8, "color": "black", "opacity": 1}, "encoding": {"x": {"field": "g", "type": "nominal"}, "y": {"field": "offhi", "type": "quantitative"}}},
     {"transform": [{"filter": "datum.offsig"}], "mark": {"type": "text", "text": "*", "fontSize": 22, "fontWeight": "bold", "baseline": "alphabetic", "dy": 4, "color": "black"}, "encoding": {"x": {"field": "g", "type": "nominal"}, "y": {"field": "offhi", "type": "quantitative"}}},
     {"transform": [{"filter": "datum.g=='GAVPO'"}], "mark": {"type": "text", "text": "t", "fontSize": 34, "fontWeight": "bold", "baseline": "alphabetic", "dx": 2, "color": "black"}, "encoding": {"x": {"datum": "C", "type": "nominal"}, "y": {"datum": 12.15, "type": "quantitative"}}},
     {"transform": [{"filter": "datum.g=='GAVPO'"}], "mark": {"type": "text", "text": "1/2 off", "fontSize": 27, "fontWeight": "bold", "align": "left", "baseline": "alphabetic", "dx": -3, "color": "black"}, "encoding": {"x": {"datum": "D", "type": "nominal"}, "y": {"datum": 11.49, "type": "quantitative"}}},
     {"transform": [{"filter": "datum.g=='GAVPO'"}], "mark": {"type": "rule", "strokeWidth": 1, "color": "black"}, "encoding": {"x": {"datum": "A", "type": "nominal", "bandPosition": 0}, "x2": {"datum": "J", "bandPosition": 1}, "y": {"datum": -1.165, "type": "quantitative"}}},
     {"transform": [{"filter": "datum.g=='GAVPO'"}], "mark": {"type": "text", "text": "PA-Gal4cc", "fontSize": 19, "fontWeight": "bold", "baseline": "middle", "dx": -10, "color": "black"}, "encoding": {"x": {"datum": "F", "type": "nominal"}, "y": {"datum": -2.13, "type": "quantitative"}}}
    ]}
    ]}
  ]
 }
]
}
